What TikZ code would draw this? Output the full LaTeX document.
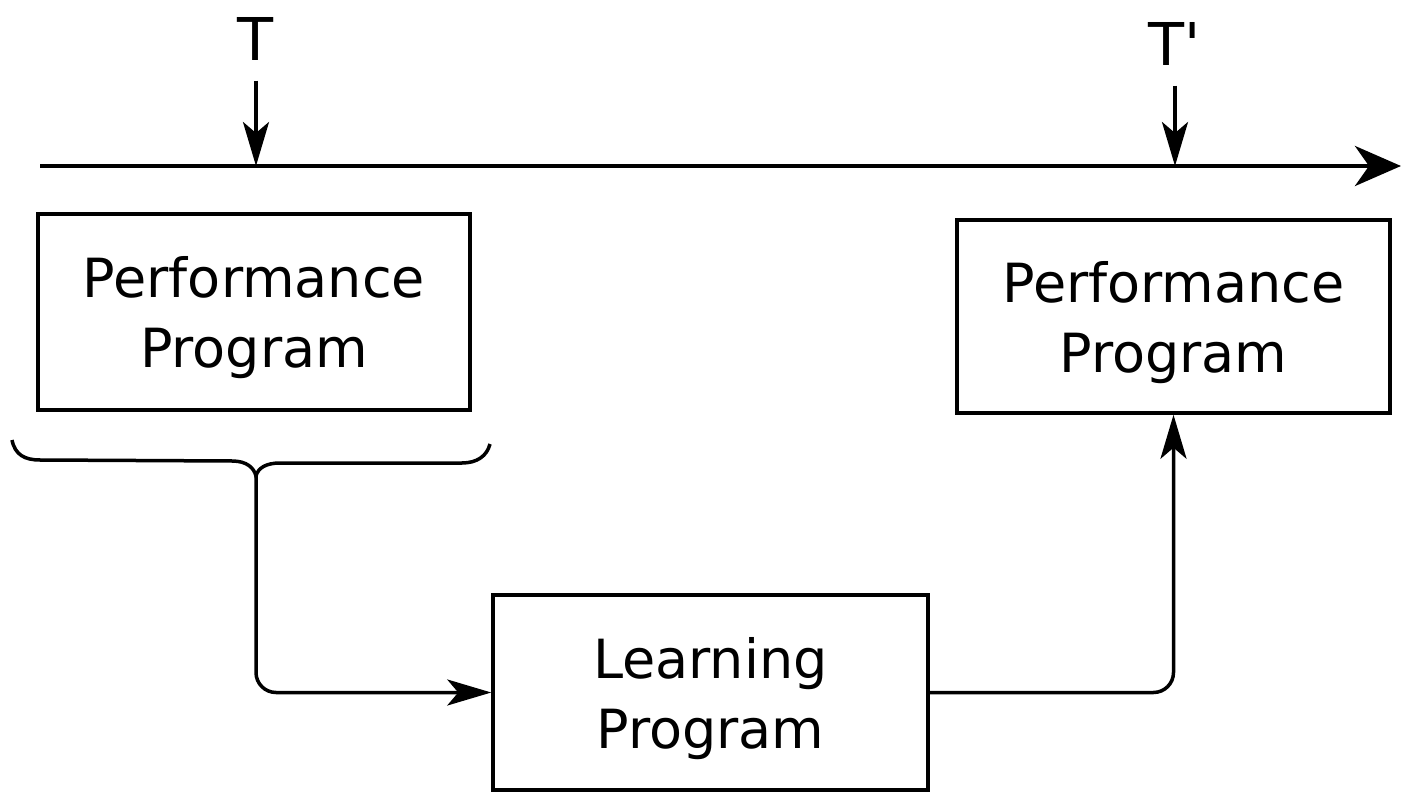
\documentclass[tikz,border=0pt]{standalone}
\usepackage{fontspec}
\setmainfont{DejaVu Sans}
\usetikzlibrary{arrows.meta}
\begin{document}
\begin{tikzpicture}[x=1pt,y=-1pt,
  every node/.style={font=\fontsize{54}{70}\selectfont},
  pbox/.style={draw, line width=3.5pt, align=center, text depth=0pt, inner sep=0pt},
  lbl/.style={font=\fontsize{59}{70}\selectfont, inner sep=0pt},
  conn/.style={line width=3.5pt, rounded corners=20pt},
  tip/.style={-{Stealth[length=44pt,width=26pt,inset=11pt]}},
  bigtip/.style={-{Stealth[length=46pt,width=40pt,inset=14pt]}}]
\useasboundingbox (0,0) rectangle (1401,794);
% timeline
\coordinate (tl0) at (40,166);
\coordinate (tl1) at (1401,166);
\draw[line width=4.5pt, bigtip] (tl0) -- (tl1);
% time labels
\node[lbl] (T) at (256,39) {T};
\node[lbl] (Tp) at (1175,44) {T\textquotesingle};
\coordinate (tT) at (256,166);
\coordinate (tTp) at (1175,166);
\draw[line width=3.5pt, tip] ([yshift=-20pt]T.south) -- (tT);
\draw[line width=3.5pt, tip] ([yshift=-20pt]Tp.south) -- (tTp);
% boxes
\node[pbox, minimum width=432pt, minimum height=196pt] (pp1) at (254,312) {Performance\\Program};
\node[pbox, minimum width=433pt, minimum height=193pt] (pp2) at (1173.5,316.5) {Performance\\Program};
\node[pbox, minimum width=435pt, minimum height=195pt] (lp) at (710.5,692.5) {Learning\\Program};
% brace
\coordinate (bl) at (12,440);
\coordinate (br) at (490,444);
\coordinate (btip) at (256,476);
\draw[line width=3.5pt] (bl) .. controls (15,455) and (25,460) .. (40,460) -- (232,461)
  .. controls (247,461) and (254,468) .. (btip)
  .. controls (258,468) and (266,463) .. (280,463) -- (462,463)
  .. controls (477,463) and (487,456) .. (br);
% connectors
\draw[conn, tip] (btip) |- (lp.west);
\draw[conn, tip] (lp.east) -| (pp2.south);
\end{tikzpicture}
\end{document}
